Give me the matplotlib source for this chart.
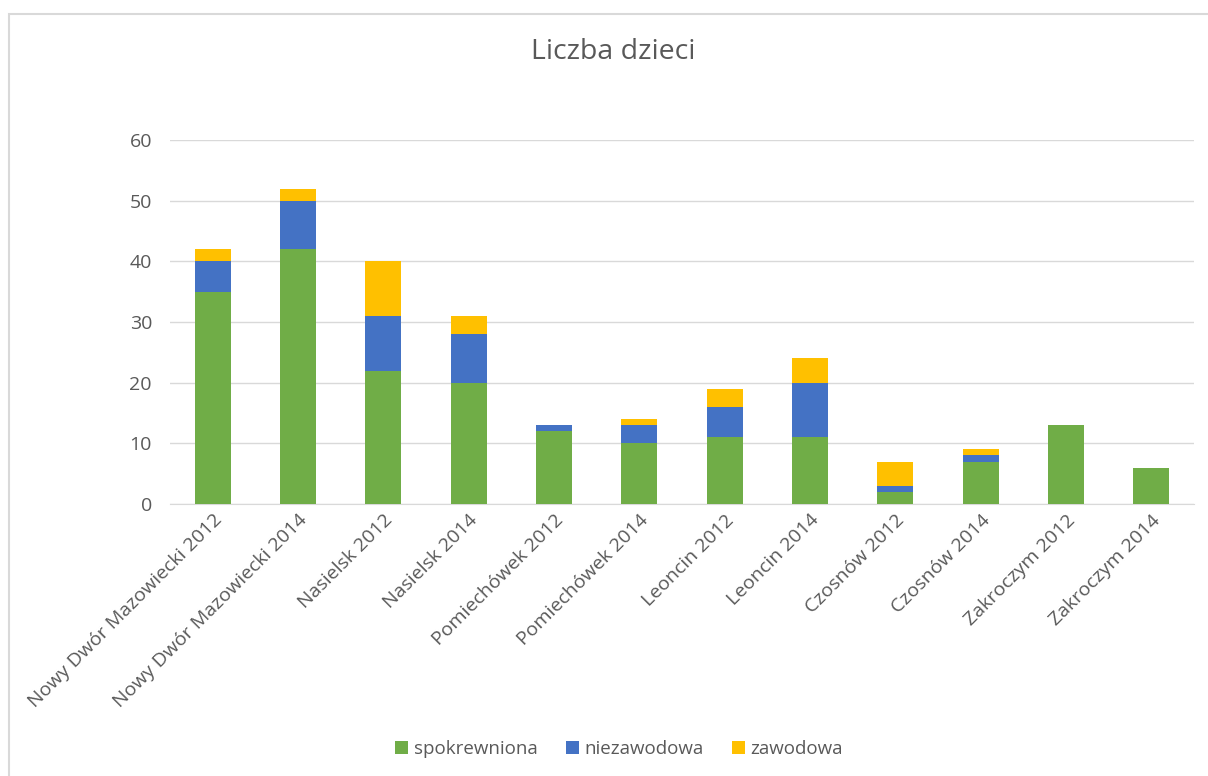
import matplotlib
matplotlib.use("Agg")
import matplotlib.pyplot as plt
from matplotlib.patches import Rectangle
import numpy as np

categories = ["Nowy Dwór Mazowiecki 2012", "Nowy Dwór Mazowiecki 2014",
              "Nasielsk 2012", "Nasielsk 2014", "Pomiechówek 2012", "Pomiechówek 2014",
              "Leoncin 2012", "Leoncin 2014", "Czosnów 2012", "Czosnów 2014",
              "Zakroczym 2012", "Zakroczym 2014"]
spokrewniona = [35, 42, 22, 20, 12, 10, 11, 11, 2, 7, 13, 6]
niezawodowa = [5, 8, 9, 8, 1, 3, 5, 9, 1, 1, 0, 0]
zawodowa = [2, 2, 9, 3, 0, 1, 3, 4, 4, 1, 0, 0]
series_names = ["spokrewniona", "niezawodowa", "zawodowa"]
colors = ["#70AD47", "#4472C4", "#FFC000"]
yticks = [0, 10, 20, 30, 40, 50, 60]

plt.rcParams['font.family'] = ['Open Sans', 'DejaVu Sans']
text_color = "#595959"

fig = plt.figure(figsize=(12.08, 7.76), dpi=100)
fig.patches.append(Rectangle((9/1208, -0.1), 1.2, 1 - 14/776 + 0.1,
                             transform=fig.transFigure, fill=False,
                             edgecolor="#D9D9D9", linewidth=1.5, zorder=0))

ax = fig.add_axes([170/1208, 1 - 504/776, (1194 - 170)/1208, (504 - 140)/776])
x = np.arange(len(categories))
w = 0.42
s = np.array(spokrewniona)
n = np.array(niezawodowa)
z = np.array(zawodowa)
ax.bar(x, s, w, color=colors[0], label=series_names[0], zorder=3)
ax.bar(x, n, w, bottom=s, color=colors[1], label=series_names[1], zorder=3)
ax.bar(x, z, w, bottom=s + n, color=colors[2], label=series_names[2], zorder=3)

ax.set_xlim(-0.5, len(categories) - 0.5)
ax.set_ylim(0, 60)
ax.set_yticks(yticks)
ax.set_yticklabels([str(v) for v in yticks], color=text_color, fontsize=14)
ax.yaxis.grid(True, color="#D9D9D9", linewidth=1, zorder=0)
ax.tick_params(axis='y', length=0, pad=13)
ax.tick_params(axis='x', length=0, pad=5)
ax.set_xticks(x)
ax.set_xticklabels(categories, rotation=45, ha='right', rotation_mode='anchor',
                   color=text_color, fontsize=14)
for sp in ["top", "right", "left"]:
    ax.spines[sp].set_visible(False)
ax.spines["bottom"].set_color("#D9D9D9")

fig.text(613/1208, 1 - 52/776, "Liczba dzieci", ha='center', va='center',
         fontsize=20.5, color=text_color)

fig.legend(loc='center', bbox_to_anchor=(619/1208, 1 - 749/776), ncol=3,
           frameon=False, fontsize=13.5, labelcolor=text_color,
           handlelength=0.7, handleheight=0.7, handletextpad=0.3, columnspacing=1.5)

fig.savefig("out.png", dpi=100)
